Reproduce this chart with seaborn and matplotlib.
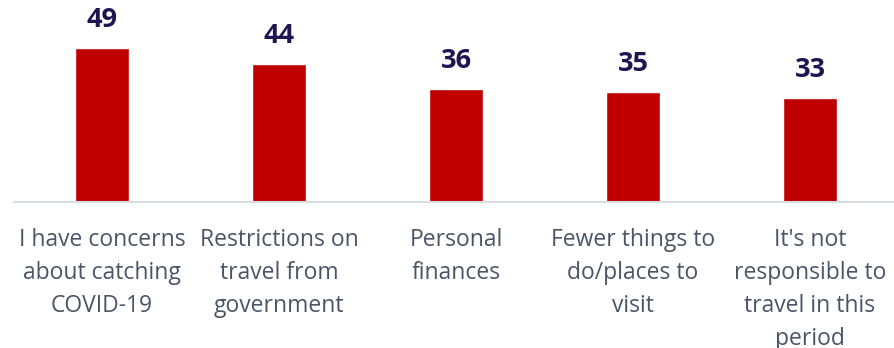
import matplotlib
matplotlib.use("Agg")
import matplotlib.pyplot as plt
import seaborn as sns
import pandas as pd

categories = [
    "I have concerns\nabout catching\nCOVID-19",
    "Restrictions on\ntravel from\ngovernment",
    "Personal\nfinances",
    "Fewer things to\ndo/places to\nvisit",
    "It's not\nresponsible to\ntravel in this\nperiod",
]
values = [49, 44, 36, 35, 33]

df = pd.DataFrame({"reason": categories, "pct": values})

sns.set_theme(style="white")
plt.rcParams["font.family"] = ["Open Sans", "DejaVu Sans"]

W, H = 894, 348
fig = plt.figure(figsize=(W / 100, H / 100), dpi=100)
left_px, base_px, step_px = 13.5, 202, 177
width_px = W - left_px
ax = fig.add_axes([left_px / W, (H - base_px) / H, width_px / W, 157 / H])

sns.barplot(data=df, x="reason", y="pct", color="#C00000", width=0.31,
            saturation=1, ax=ax)

ax.set_xlim(-0.5, width_px / step_px - 0.5)
ax.set_ylim(0, 50)

for i, v in enumerate(values):
    ax.annotate(str(v), (i, v), xytext=(0, 15), textcoords="offset pixels",
                ha="center", va="bottom", fontsize=19.5, fontweight="bold",
                color="#1E1650", annotation_clip=False)

ax.set_xlabel("")
ax.set_ylabel("")
ax.set_yticks([])
ax.tick_params(axis="x", length=0, pad=19, labelsize=16.5, labelcolor="#4A5568")
for lbl in ax.get_xticklabels():
    lbl.set_linespacing(1.5)
    lbl.set_verticalalignment("top")

for s in ["top", "right", "left"]:
    ax.spines[s].set_visible(False)
ax.spines["bottom"].set_color("#D9DCE3")
ax.spines["bottom"].set_linewidth(1.5)

fig.savefig("out.png", dpi=100)
